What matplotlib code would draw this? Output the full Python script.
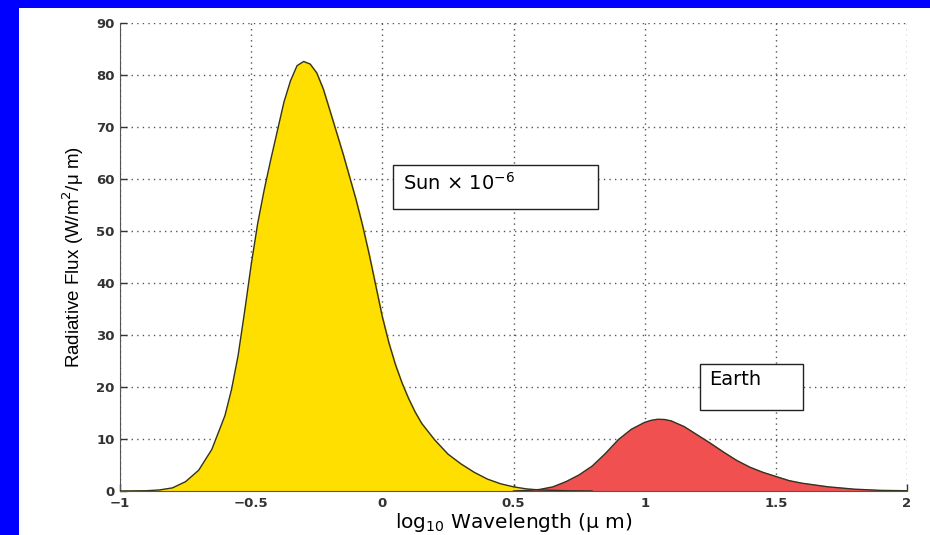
import matplotlib.pyplot as plt
from matplotlib.patches import Rectangle

# Curves (x = log10 wavelength in micron, y = flux)
sun_x = [-1.0, -0.9, -0.85, -0.8, -0.75, -0.7, -0.65, -0.6, -0.575, -0.55,
         -0.525, -0.5, -0.475, -0.45, -0.425, -0.4, -0.375, -0.35, -0.325,
         -0.3, -0.275, -0.25, -0.225, -0.2, -0.15, -0.1, -0.075, -0.05,
         -0.025, 0.0, 0.025, 0.05, 0.075, 0.1, 0.125, 0.15, 0.2, 0.25, 0.3,
         0.35, 0.4, 0.45, 0.5, 0.55, 0.6, 0.7, 0.8]
sun_y = [0.0, 0.05, 0.2, 0.6, 1.8, 4.0, 8.0, 14.5, 19.5, 26.0,
         34.5, 43.5, 51.5, 58.0, 63.8, 69.3, 74.8, 78.9, 81.8,
         82.6, 82.1, 80.4, 77.3, 73.2, 64.9, 56.0, 51.0, 45.5,
         39.5, 33.5, 28.5, 24.3, 20.8, 17.8, 15.2, 13.0, 9.8, 7.1, 5.2,
         3.6, 2.3, 1.4, 0.8, 0.4, 0.2, 0.05, 0.0]

earth_x = [0.5, 0.55, 0.6, 0.65, 0.7, 0.75, 0.8, 0.85, 0.9, 0.95, 1.0,
           1.025, 1.05, 1.075, 1.1, 1.15, 1.2, 1.25, 1.3, 1.35, 1.4, 1.45,
           1.5, 1.55, 1.6, 1.7, 1.8, 1.9, 2.0]
earth_y = [0.0, 0.1, 0.3, 0.8, 1.8, 3.1, 4.8, 7.2, 9.9, 11.9, 13.2,
           13.6, 13.8, 13.75, 13.5, 12.4, 10.8, 9.2, 7.5, 5.9, 4.6, 3.6,
           2.8, 2.0, 1.5, 0.8, 0.35, 0.12, 0.05]

xticks = [-1, -0.5, 0, 0.5, 1, 1.5, 2]
xticklabels = ['\u22121', '\u22120.5', '0', '0.5', '1', '1.5', '2']
yticks = [0, 10, 20, 30, 40, 50, 60, 70, 80, 90]

plt.rcParams['font.family'] = ['Liberation Sans', 'DejaVu Sans']

fig = plt.figure(figsize=(9.3, 5.35), dpi=100, facecolor='white')
# blue frame on the left and top edges
fig.patches.append(Rectangle((0, 0), 19/930, 1, transform=fig.transFigure,
                             facecolor='#0000FF', edgecolor='none', zorder=-10))
fig.patches.append(Rectangle((0, 1 - 8/535), 1, 8/535, transform=fig.transFigure,
                             facecolor='#0000FF', edgecolor='none', zorder=-10))

ax = fig.add_axes([120/930, 44/535, 787/930, 468/535])
ax.set_facecolor('none')

ax.fill_between(sun_x, sun_y, color='#FFDF00', zorder=2)
ax.plot(sun_x, sun_y, color='#333322', lw=1.0, zorder=3)
ax.fill_between(earth_x, earth_y, color='#F05050', zorder=2)
ax.plot(earth_x, earth_y, color='#333322', lw=1.0, zorder=3)

ax.set_xlim(-1, 2)
ax.set_ylim(0, 90)
ax.set_xticks(xticks)
ax.set_xticklabels(xticklabels)
ax.set_yticks(yticks)
for lab in ax.get_xticklabels() + ax.get_yticklabels():
    lab.set_fontweight('bold')
    lab.set_fontsize(9.5)
    lab.set_family(['DejaVu Sans'])
ax.tick_params(direction='in', length=5, width=1, colors='#333333')
ax.tick_params(axis='x', pad=4)
ax.tick_params(axis='y', pad=4)

ax.spines['top'].set_visible(False)
ax.spines['right'].set_visible(False)
ax.spines['left'].set_color('#555555')
ax.spines['bottom'].set_color('#555555')
ax.grid(True, linestyle=(0, (1, 3)), color='#555555', lw=1.0, zorder=1)
ax.set_axisbelow(True)

ax.set_ylabel('Radiative Flux (W/m$^2$/\u03bc m)', fontsize=13.5, labelpad=7)
ax.set_xlabel('log$_{10}$ Wavelength (\u03bc m)', fontsize=14.5,
              family=['DejaVu Sans'], labelpad=1)

# annotation boxes
ax.add_patch(Rectangle((0.042, 54.2), 0.782, 8.5, facecolor='white',
                       edgecolor='#222222', lw=1.0, zorder=4))
ax.text(0.08, 59.3, 'Sun \u00d7 10$^{-6}$', fontsize=14, family=['DejaVu Sans'],
        va='center', zorder=5)
ax.add_patch(Rectangle((1.21, 15.6), 0.393, 8.8, facecolor='white',
                       edgecolor='#222222', lw=1.0, zorder=4))
ax.text(1.245, 21.4, 'Earth', fontsize=14, family=['DejaVu Sans'],
        va='center', zorder=5)

fig.savefig('out.png', dpi=100)
